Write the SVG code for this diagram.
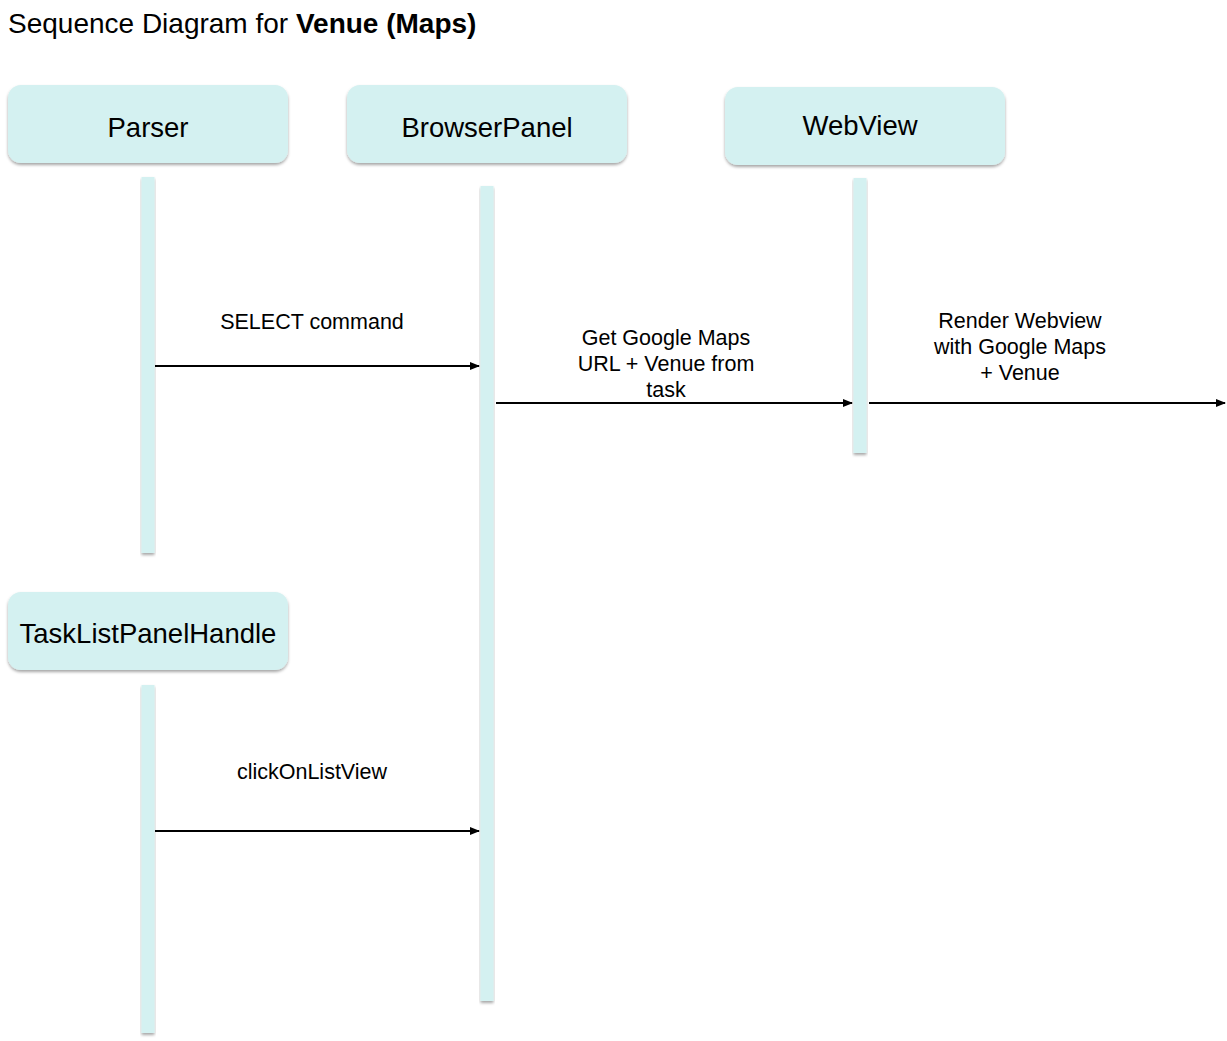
<svg xmlns="http://www.w3.org/2000/svg" width="1227" height="1041" viewBox="0 0 1227 1041">
<defs>
<filter id="sh" x="-10%" y="-10%" width="120%" height="130%">
<feDropShadow dx="0" dy="2" stdDeviation="1.5" flood-color="#000" flood-opacity="0.35"/>
</filter>
<marker id="ah" markerWidth="10" markerHeight="8" refX="9" refY="4" orient="auto" markerUnits="userSpaceOnUse">
<path d="M0,0 L10,4 L0,8 Z" fill="#000"/>
</marker>
<style>
.box{fill:#d4f1f1;filter:url(#sh)}
.bar{fill:#d4f1f1;filter:url(#sh)}
.lbl{font-family:"Liberation Sans",Arial,sans-serif;font-size:27.5px;fill:#000;text-anchor:middle}
.msg{font-family:"Liberation Sans",Arial,sans-serif;font-size:21.5px;fill:#000;text-anchor:middle}
.ln{stroke:#000;stroke-width:2;fill:none;marker-end:url(#ah)}
</style>
</defs>
<rect width="1227" height="1041" fill="#fff"/>
<text x="8" y="33" font-family="'Liberation Sans',Arial,sans-serif" font-size="28" fill="#000">Sequence Diagram for <tspan font-weight="bold">Venue (Maps)</tspan></text>

<g id="parser">
<rect class="box" x="8" y="85" width="280" height="78" rx="13"/>
<text class="lbl" x="148" y="137">Parser</text>
<rect class="bar" x="141.5" y="177" width="13" height="376"/>
</g>
<g id="browserpanel">
<rect class="box" x="347" y="85" width="280" height="78" rx="13"/>
<text class="lbl" x="487" y="137">BrowserPanel</text>
<rect class="bar" x="480.5" y="186" width="13" height="815"/>
</g>
<g id="webview">
<rect class="box" x="725" y="87" width="280" height="78" rx="13"/>
<text class="lbl" x="860" y="135">WebView</text>
<rect class="bar" x="853.5" y="178" width="13" height="275"/>
</g>
<g id="tasklistpanelhandle">
<rect class="box" x="8" y="592" width="280" height="78" rx="13"/>
<text class="lbl" x="148" y="643">TaskListPanelHandle</text>
<rect class="bar" x="141.5" y="685" width="13" height="348"/>
</g>

<g id="connectors">
<line class="ln" x1="155" y1="366" x2="479" y2="366"/>
<line class="ln" x1="496" y1="403" x2="852" y2="403"/>
<line class="ln" x1="869" y1="403" x2="1225" y2="403"/>
<line class="ln" x1="155" y1="831" x2="479" y2="831"/>
<text class="msg" x="312" y="329">SELECT command</text>
<text class="msg" x="666" y="345">Get Google Maps</text>
<text class="msg" x="666" y="371">URL + Venue from</text>
<text class="msg" x="666" y="397">task</text>
<text class="msg" x="1020" y="328">Render Webview</text>
<text class="msg" x="1020" y="354">with Google Maps</text>
<text class="msg" x="1020" y="380">+ Venue</text>
<text class="msg" x="312" y="779">clickOnListView</text>
</g>
</svg>
